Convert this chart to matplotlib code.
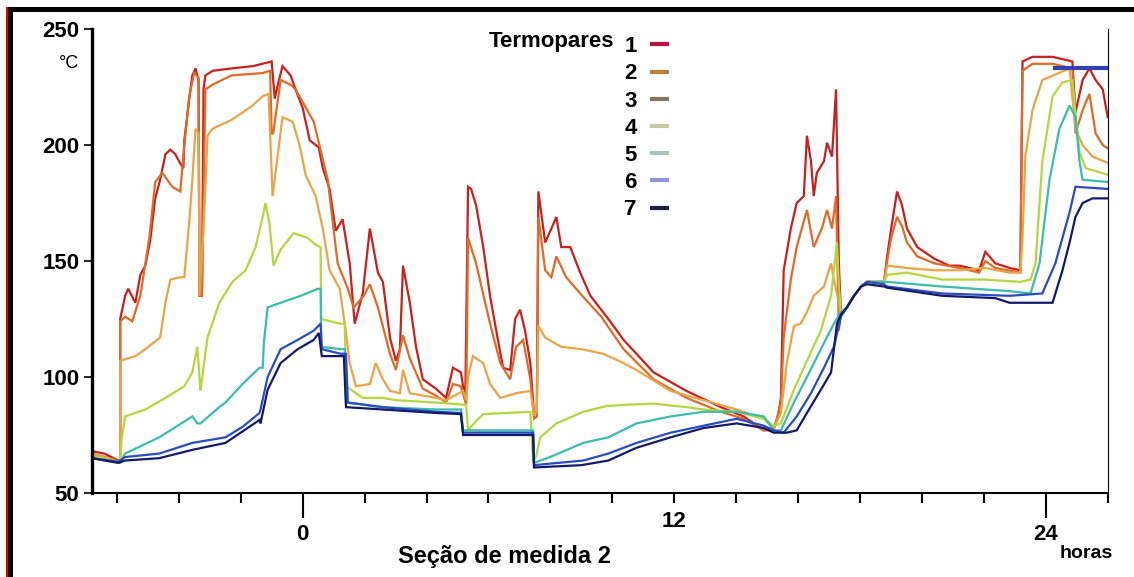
import matplotlib
matplotlib.use("Agg")
import matplotlib.pyplot as plt
from matplotlib.patches import Rectangle
from matplotlib.lines import Line2D

# hours / degrees C, one list per thermocouple
t1 = [-6.80, -6.4, -6.1, -5.95, -5.89, -5.89, -5.73, -5.63, -5.40, -5.24, -5.08, -4.92, -4.76, -4.60, -4.43, -4.27,
      -4.11, -3.95, -3.85, -3.82, -3.66, -3.56, -3.46, -3.36, -3.33, -3.25, -3.20, -3.14, -2.9, -2.3, -1.6, -1.0,
      -0.9, -0.8, -0.65, -0.39, -0.23, 0.0, 0.23, 0.42, 0.52, 0.65, 0.87, 1.07, 1.29, 1.52, 1.68, 1.94, 2.17, 2.43,
      2.59, 2.82, 3.01, 3.14, 3.24, 3.46, 3.66, 3.88, 4.30, 4.63, 4.85, 5.11, 5.25, 5.34, 5.44, 5.60, 5.83, 6.05,
      6.25, 6.47, 6.70, 6.86, 7.02, 7.18, 7.35, 7.47, 7.56, 7.61, 7.83, 8.03, 8.19, 8.35, 8.64, 8.96, 9.29, 9.87,
      10.36, 11.33, 12.39, 13.50, 14.24, 14.89, 15.21, 15.35, 15.44, 15.53, 15.76, 15.95, 16.18, 16.28, 16.41, 16.50,
      16.60, 16.83, 16.93, 17.09, 17.22, 17.31, 17.38, 17.57, 17.80, 18.03, 18.22, 18.77, 18.87, 19.00, 19.19, 19.35,
      19.51, 19.84, 20.39, 20.87, 21.20, 21.84, 22.04, 22.36, 22.82, 23.17, 23.24, 23.56, 24.21, 24.85, 24.95, 25.18,
      25.40, 25.60, 25.83, 25.99, 26.05]
v1 = [68, 67, 65, 64, 64, 125, 135, 138, 132, 144, 148, 159, 177, 185, 196, 198,
      196, 192, 190, 202, 220, 230, 233, 228, 135, 135, 224, 230, 232, 233, 234, 236,
      220, 226, 234, 230, 224, 216, 202, 200, 199, 190, 181, 163, 168, 149, 123, 136, 164, 145,
      141, 117, 107, 112, 148, 132, 113, 99, 95, 91, 104, 102, 90, 182, 181, 174, 156, 135,
      120, 104, 103, 125, 129, 120, 106, 84, 85, 180, 158, 164, 169, 156, 156, 145, 135, 125,
      116, 102, 94, 87, 83, 77, 78, 83, 91, 146, 164, 175, 178, 204, 193, 178,
      188, 193, 201, 195, 224, 149, 127, 130, 135, 139, 141, 141, 152, 164, 180, 174,
      164, 156, 151, 148, 148, 146, 154, 149, 147, 146, 236, 238, 238, 236, 214, 228,
      233, 228, 224, 212, 212]

t2 = [-6.80, -6.1, -5.95, -5.89, -5.89, -5.73, -5.50, -5.24, -4.95, -4.76, -4.53, -4.21, -3.95, -3.82, -3.66, -3.50,
      -3.36, -3.33, -3.25, -3.14, -2.91, -2.3, -1.3, -1.05, -1.0, -0.95, -0.71, -0.39, -0.23, 0.36, 0.81, 1.13,
      1.46, 1.65, 1.97, 2.17, 2.43, 2.82, 3.01, 3.24, 3.46, 3.88, 4.30, 4.63, 4.85, 5.11, 5.28, 5.34, 5.60, 6.05,
      6.38, 6.70, 6.89, 7.12, 7.35, 7.47, 7.56, 7.61, 7.83, 8.03, 8.19, 8.51, 8.96, 9.64, 10.36, 11.33, 12.39, 13.50,
      14.24, 14.89, 15.21, 15.44, 15.53, 15.76, 15.95, 16.28, 16.50, 16.76, 16.93, 17.09, 17.22, 17.31, 17.38, 17.57,
      17.80, 18.03, 18.22, 18.77, 18.87, 19.00, 19.19, 19.35, 19.51, 19.84, 20.39, 21.20, 21.84, 22.04, 22.36, 23.17,
      23.24, 23.56, 24.21, 24.85, 24.95, 25.18, 25.40, 25.60, 25.83, 26.05]
v2 = [67, 64.5, 63.5, 64, 124, 126, 124, 135, 160, 184, 188, 182, 180, 200, 221, 231,
      229, 135, 135, 224, 226, 230, 231, 232, 205, 205, 228, 226, 224, 210, 185, 149,
      138, 130, 135, 140, 130, 110, 103, 118, 108, 95, 92, 89, 97, 96, 88, 160, 149, 123,
      106, 99, 113, 116, 99, 82, 83, 169, 146, 143, 152, 143, 136, 126, 112, 99, 91, 85,
      82, 77, 77, 89, 117, 142, 156, 172, 156, 164, 172, 164, 178, 120, 127, 130,
      135, 139, 141, 141, 150, 160, 169, 165, 158, 152, 149, 147, 145, 150, 147, 145,
      232, 235, 235, 233, 205, 215, 222, 205, 200, 198]

t3 = [-6.80, -5.95, -5.89, -5.89, -5.40, -5.08, -4.60, -4.43, -4.27, -3.95, -3.82, -3.66, -3.56, -3.46, -3.36, -3.33,
      -3.20, -3.07, -2.91, -2.27, -1.62, -1.29, -1.1, -0.97, -0.65, -0.32, -0.10, 0.10, 0.42, 0.65, 0.87, 1.20,
      1.39, 1.52, 1.72, 2.17, 2.36, 2.59, 2.82, 3.14, 3.24, 3.46, 4.30, 4.63, 5.18, 5.28, 5.34, 5.50, 5.83, 6.05,
      6.38, 6.89, 7.35, 7.47, 7.56, 7.61, 7.83, 8.35, 9.00, 9.71, 10.36, 10.78, 11.88, 12.94, 14.01, 14.89,
      15.21, 15.44, 15.63, 15.86, 16.08, 16.28, 16.50, 16.83, 17.06, 17.15, 17.31, 17.38, 17.57, 17.80, 18.03, 18.22,
      18.77, 18.87, 19.5, 20.39, 21.20, 22.04, 22.82, 23.17, 23.24, 23.33, 23.56, 23.88, 24.76, 24.95, 25.18, 25.50,
      26.05]
v3 = [67, 63.5, 64, 107, 109, 112, 117, 132, 142, 143, 143, 167, 185, 207, 205, 135,
      164, 204, 207, 211, 217, 221, 222, 178, 212, 210, 200, 187, 178, 164, 146, 138,
      120, 106, 96, 97, 106, 99, 94, 93, 103, 93, 91, 90, 94, 90, 100, 109, 106, 97,
      91, 93, 94, 84, 85, 122, 117, 113, 112, 110, 106, 103, 94, 90, 86, 82,
      78, 84.5, 106, 122, 123, 128, 135, 139, 149, 142, 132, 127, 130, 135, 139, 141,
      141, 148, 147, 146, 146, 147, 145, 145, 160, 195, 215, 228, 233, 207, 200, 195,
      192]

t4 = [-6.80, -5.95, -5.89, -5.85, -5.73, -5.08, -4.43, -3.82, -3.56, -3.40, -3.30, -3.07, -2.69, -2.27, -1.84, -1.52,
      -1.29, -1.2, -1.07, -0.94, -0.71, -0.29, 0.16, 0.42, 0.58, 0.60, 1.20, 1.36, 1.40, 1.94, 2.59, 3.01,
      4.30, 5.28, 5.34, 5.60, 5.83, 7.35, 7.44, 7.54, 7.67, 8.19, 9.06, 9.81, 10.36, 11.33, 12.39, 12.94,
      14.01, 14.89, 15.21, 15.44, 15.86, 16.28, 16.73, 17.06, 17.25, 17.31, 17.38, 17.57, 17.80, 18.03, 18.22, 18.77,
      18.87, 19.5, 20.65, 22.0, 23.17, 23.5, 23.66, 23.88, 24.21, 24.53, 24.85, 24.95, 25.08, 25.28, 26.05]
v4 = [66, 63.5, 63.5, 73, 83, 86, 91, 96, 102, 113, 94, 117, 132, 141, 146, 156,
      169, 175, 166, 148, 155, 162, 160, 157, 156, 125, 123, 123, 96, 91, 91, 90,
      89, 88, 77, 81, 84, 85, 63, 66, 74, 80, 85, 87.5, 88, 88.5, 87, 86,
      85, 82, 79, 80, 94.5, 107, 120, 135, 158, 140, 127, 130, 135, 139, 141, 141,
      144, 145, 142, 142, 141, 142, 149, 193, 221, 227, 228, 214, 197, 190, 187]

t5 = [-6.80, -5.95, -5.89, -5.73, -4.63, -3.56, -3.40, -3.30, -2.69, -2.49, -1.94, -1.39, -1.29, -1.25, -1.13, -0.71,
      -0.06, 0.49, 0.58, 0.60, 1.23, 1.36, 1.40, 2.59, 4.30, 5.11, 5.18, 7.44, 7.47, 7.99, 9.06, 9.87,
      10.78, 11.88, 12.94, 14.01, 14.89, 15.21, 15.44, 15.86, 16.28, 16.73, 17.15, 17.38, 17.57, 17.80, 18.03, 18.22,
      18.77, 18.87, 20.65, 22.82, 23.5, 23.79, 24.11, 24.43, 24.76, 24.95, 25.08, 25.18, 26.05]
v5 = [65, 63, 63, 67, 74, 83, 80, 80, 87, 89, 97, 104, 104, 115, 130, 132,
      135, 138, 138, 113, 112, 112, 89, 87, 86, 86, 77, 77, 63, 65.5, 71.6, 74,
      80, 83, 85, 85, 83, 77, 77, 89, 100, 112, 123, 128, 130, 135, 139, 141,
      141, 141, 139, 137, 136, 149, 185, 207, 217, 212, 193, 185, 184]

t6 = [-6.80, -5.95, -5.73, -4.63, -3.56, -2.49, -1.94, -1.39, -1.36, -1.13, -0.71, -0.16, 0.36, 0.58, 0.62, 1.23,
      1.40, 1.46, 2.59, 4.30, 5.11, 5.18, 7.44, 7.47, 9.06, 9.87, 10.78, 11.88, 12.94, 14.01, 14.89, 15.21,
      15.53, 15.95, 16.41, 16.83, 17.15, 17.38, 17.57, 17.80, 18.03, 18.22, 18.77, 18.87, 20.65, 22.82, 23.88, 24.30,
      24.76, 24.95, 26.05]
v6 = [65, 63.5, 65.5, 67, 71.6, 74, 78.5, 84.5, 86, 100, 112, 116, 120, 123, 112, 110,
      110, 89, 87, 85, 84.5, 76, 76, 62, 64, 67, 71.6, 76, 79, 82, 79, 77,
      76, 83, 93, 104, 113, 126, 130, 135, 139, 141, 140, 139, 136, 135, 136, 149,
      171, 182, 181]

t7 = [-6.80, -5.95, -5.73, -4.63, -3.56, -2.49, -1.39, -1.36, -1.13, -0.71, -0.16, 0.36, 0.52, 0.62, 1.33, 1.40,
      2.59, 4.30, 5.11, 5.18, 7.44, 7.47, 9.0, 9.87, 10.78, 11.88, 12.94, 14.01, 14.89, 15.21, 15.63, 15.95,
      16.28, 16.73, 17.06, 17.25, 17.38, 17.57, 17.80, 18.03, 18.22, 18.77, 18.87, 20.65, 22.36, 22.82, 24.21, 24.53,
      24.76, 24.95, 25.18, 25.50, 26.05]
v7 = [65, 63, 64, 65, 68.6, 71.6, 81.5, 80, 94.5, 106, 112, 116, 119, 109, 109, 87,
      86, 84.5, 84, 75, 75, 61, 62, 64, 69.5, 74, 78, 80, 78, 76, 76, 77,
      84.5, 94.5, 102, 123, 127, 130, 135, 139, 140, 139, 138.5, 135, 134, 132, 132, 146,
      158, 169, 175, 177, 177]

# short stray blue segment near the top right corner
stray_t = [24.3, 26.0]
stray_v = [233, 233]

series = [(t1, v1), (t2, v2), (t3, v3), (t4, v4), (t5, v5), (t6, v6), (t7, v7)]
line_colors = ['#c8201e', '#e06a28', '#eaa448', '#b4d640', '#3cbcaa', '#2a4cc0', '#141a6a']
legend_colors = ['#c0103c', '#c08040', '#857462', '#c8c8a8', '#a4c4c4', '#9494dc', '#1e2040']
legend_labels = ['1', '2', '3', '4', '5', '6', '7']

y_ticks = [50, 100, 150, 200, 250]
x_major = [0, 24]
x_minor = [-6, -4, -2, 2, 4, 6, 8, 10, 12, 14, 16, 18, 20, 22, 26]

W, H = 1134, 577
fig = plt.figure(figsize=(W / 100, H / 100), dpi=100)
ax = fig.add_axes([92 / W, 84 / H, 1016 / W, 464 / H])

for (t, v), c in zip(series, line_colors):
    ax.plot(t, v, color=c, lw=1.6, solid_joinstyle='miter')
ax.plot(stray_t, stray_v, color='#3040b0', lw=3)

ax.set_xlim(-6.8, 26)
ax.set_ylim(50, 250)

ax.spines['top'].set_visible(False)
ax.spines['left'].set_linewidth(2.4)
ax.spines['bottom'].set_linewidth(1.5)
ax.spines['right'].set_linewidth(0.8)

bold = dict(family='Liberation Sans', weight='bold', size=16)
ax.set_yticks(y_ticks)
ax.set_yticklabels([str(y) for y in y_ticks], fontdict=bold)
ax.tick_params(axis='y', length=6, width=1.2, pad=3)

ax.set_xticks(x_major)
ax.set_xticklabels(['0', '24'], fontdict=bold)
ax.set_xticks(x_minor, minor=True)
ax.set_xticklabels(['12' if x == 12 else '' for x in x_minor], minor=True, fontdict=bold)
ax.tick_params(axis='x', which='major', length=18, width=1.5, pad=4)
ax.tick_params(axis='x', which='minor', length=7, width=1.5, pad=6)

# legend: number then short line, with "Termopares" in front of the first row
handles = [Line2D([], [], color=c, lw=3, solid_capstyle='butt') for c in legend_colors]
leg = ax.legend(handles, legend_labels, loc='upper left', bbox_to_anchor=(613 / W, 1 - 25 / H),
                bbox_transform=fig.transFigure, frameon=False, markerfirst=False,
                handlelength=0.85, handletextpad=0.6, labelspacing=0.28, borderpad=0,
                prop=dict(family='Liberation Sans', weight='bold', size=16))
fig.text(614 / W, 1 - 42 / H, 'Termopares', ha='right', va='center',
         family='Liberation Sans', weight='bold', size=16)

fig.text(69 / W, 1 - 64 / H, '°C', ha='center', va='center', family='Liberation Sans', size=13)
fig.text(504 / W, 1 - 557 / H, 'Seção de medida 2', ha='center', va='center',
         family='Liberation Sans', weight='bold', size=17)
fig.text(1086 / W, 1 - 553 / H, 'horas', ha='center', va='center',
         family='Liberation Sans', weight='bold', size=14)

# picture frame: black band on top and left, thin red edge on the left
fig.add_artist(Rectangle((8 / W, 0), 5 / W, 1 - 7 / H, transform=fig.transFigure, color='black', lw=0))
fig.add_artist(Rectangle((8 / W, 1 - 12 / H), 1 - 8 / W, 5 / H, transform=fig.transFigure, color='black', lw=0))
fig.add_artist(Rectangle((6 / W, 0), 2 / W, 1 - 7 / H, transform=fig.transFigure, color='#e00000', lw=0))

fig.savefig('out.png', dpi=100)
